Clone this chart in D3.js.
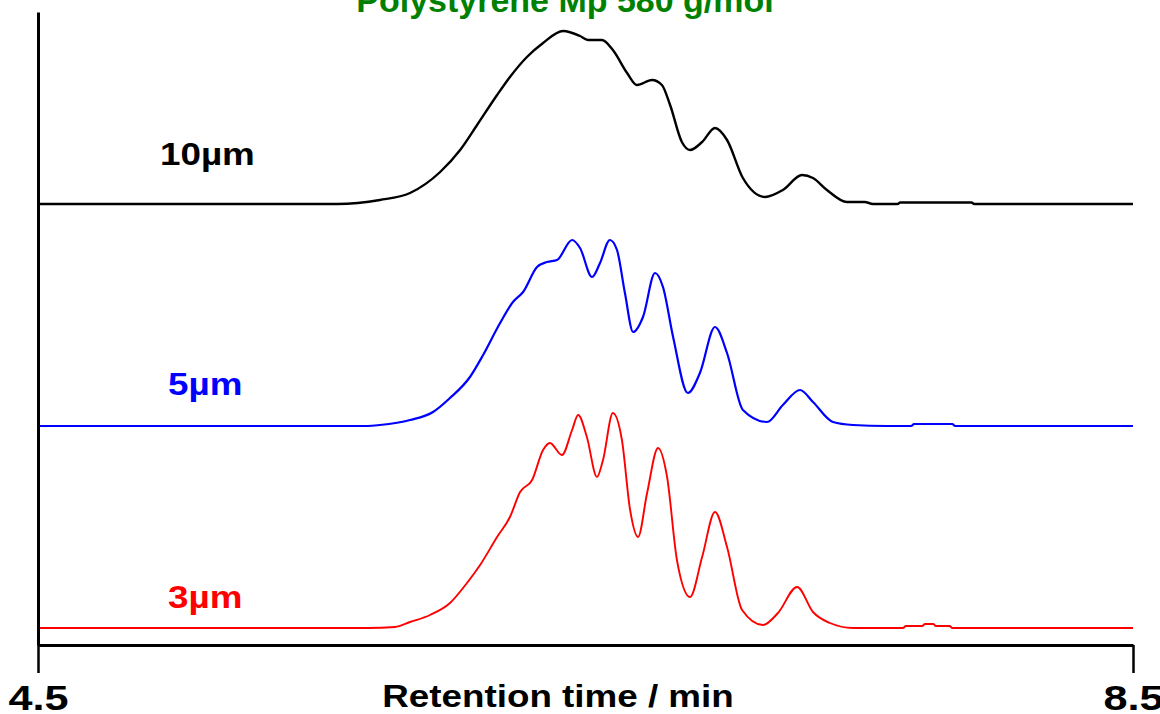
<!DOCTYPE html>
<html>
<head>
<meta charset="utf-8">
<script src="https://cdn.jsdelivr.net/npm/d3@7"></script>
<style>
  body { margin: 0; background: #fff; }
  text { font-family: "Liberation Sans", Arial, sans-serif; font-weight: bold; }
</style>
</head>
<body>
<svg id="chart"></svg>
<script>
// Retention times (min) and detector signal above each trace's own baseline
const times10 = [4.5, 5.592, 5.749, 5.859, 5.969, 6.042, 6.104, 6.177, 6.224, 6.286, 6.345, 6.418, 6.480, 6.509,
                 6.560, 6.600, 6.652, 6.688, 6.743, 6.779, 6.809, 6.852, 6.882, 6.926, 6.973, 7.017, 7.075,
                 7.156, 7.221, 7.291, 7.331, 7.382, 7.455, 7.52, 7.55, 7.64, 7.65, 7.91, 7.92, 8.5];
const signal10 = [0, 0, 4, 11, 32, 54, 79, 109, 127, 147, 161, 173, 168, 164,
                  164, 154, 131, 119, 124, 119, 99, 62, 54, 62, 76, 64, 26,
                  7, 14, 29, 26, 14, 2, 2, 0, 0, 1.5, 1.5, 0, 0];

const times5 = [4.5, 5.705, 5.749, 5.859, 5.943, 6.005, 6.078, 6.126, 6.188, 6.235, 6.272, 6.323, 6.359, 6.396,
                6.451, 6.480, 6.524, 6.553, 6.589, 6.615, 6.644, 6.674, 6.710, 6.754, 6.783, 6.820, 6.874,
                6.918, 6.973, 7.017, 7.075, 7.163, 7.221, 7.284, 7.331, 7.404, 7.477, 7.6, 7.69, 7.70, 7.84, 7.85, 8.5];
const signal5 = [0, 0, 1, 6, 14, 28, 49, 71, 103, 124, 134, 159, 164, 166,
                 186, 178, 149, 163, 186, 176, 133, 94, 109, 153, 139, 89, 33,
                 53, 99, 73, 16, 4, 21, 36, 24, 4, 1, 0, 0, 2, 2, 0, 0];

const times3 = [4.5, 5.705, 5.804, 5.859, 5.932, 6.005, 6.067, 6.115, 6.177, 6.224, 6.261, 6.305, 6.345, 6.370,
                6.414, 6.451, 6.473, 6.505, 6.542, 6.564, 6.600, 6.633, 6.663, 6.692, 6.725, 6.765, 6.798,
                6.834, 6.882, 6.926, 6.973, 7.017, 7.072, 7.148, 7.203, 7.273, 7.331, 7.393, 7.477, 7.66,
                7.67, 7.73, 7.74, 7.77, 7.78, 7.83, 7.84, 8.5];
const signal3 = [0, 0, 1, 6, 13, 25, 45, 63, 91, 111, 136, 148, 178, 185,
                 173, 198, 213, 191, 151, 168, 215, 188, 118, 91, 135, 180, 151,
                 68, 31, 71, 116, 81, 18, 3, 15, 41, 16, 5, 0, 0,
                 2, 2, 4, 4, 2, 2, 0, 0];

// Particle sizes and the vertical offset (signal units) of each stacked trace
const particleSizes = ["10µm", "5µm", "3µm"];
const traceOffsets = [441, 219, 17];
const xTicks = [4.5, 8.5];

const titleText = "Polystyrene Mp 580 g/mol";
const xLabel = "Retention time / min";

// Set up dimensions
const width = 1160, height = 714;
const stretch = 1.15; // the original lettering is a little wider than Arial

const svg = d3.select("#chart")
              .attr("width", width)
              .attr("height", height);

const xScale = d3.scaleLinear().domain([4.5, 8.5]).range([38, 1133]);
const yScale = d3.scaleLinear().domain([0, 633]).range([645, 12]);

const traces = [
    { label: particleSizes[0], times: times10, values: signal10, offset: traceOffsets[0], color: "#000000", width: 2.4, lx: 160, ly: 165 },
    { label: particleSizes[1], times: times5,  values: signal5,  offset: traceOffsets[1], color: "#0000ff", width: 2.2, lx: 168, ly: 395 },
    { label: particleSizes[2], times: times3,  values: signal3,  offset: traceOffsets[2], color: "#ff0000", width: 1.9, lx: 168, ly: 608 }
];

const line = d3.line()
               .x(d => xScale(d.t))
               .y(d => yScale(d.v))
               .curve(d3.curveMonotoneX);

// Draw the chromatograms
traces.forEach(tr => {
    const pts = tr.times.map((t, i) => ({ t: t, v: tr.values[i] + tr.offset }));
    svg.append("path")
       .datum(pts)
       .attr("fill", "none")
       .attr("stroke", tr.color)
       .attr("stroke-width", tr.width)
       .attr("stroke-linejoin", "round")
       .attr("d", line);

    svg.append("text")
       .attr("transform", `translate(${tr.lx},${tr.ly}) scale(${stretch},1)`)
       .attr("fill", tr.color)
       .attr("font-size", 32)
       .text(tr.label);
});

// Axes
const xAxis = svg.append("g")
    .attr("transform", `translate(0, ${yScale(0)})`)
    .call(d3.axisBottom(xScale).tickValues(xTicks).tickSize(28).tickSizeOuter(0).tickPadding(11).tickFormat(d3.format(".1f")));
xAxis.select(".domain").attr("stroke", "#000").attr("stroke-width", 3);
xAxis.selectAll(".tick line").attr("stroke", "#000").attr("stroke-width", 2.5);
xAxis.selectAll(".tick text").attr("font-size", 36).attr("fill", "#000")
     .attr("transform", "scale(1.2,1)")
     .style("font-family", "'Liberation Sans', Arial, sans-serif").style("font-weight", "bold");

const yAxis = svg.append("g")
    .attr("transform", `translate(${xScale(4.5)}, 0)`)
    .call(d3.axisLeft(yScale).tickValues([]).tickSizeOuter(0));
yAxis.select(".domain").attr("stroke", "#000").attr("stroke-width", 3);

// Axis title and chart title
svg.append("text")
   .attr("transform", `translate(558,707) scale(${stretch},1)`)
   .attr("text-anchor", "middle")
   .attr("font-size", 32)
   .attr("fill", "#000")
   .text(xLabel);

svg.append("text")
   .attr("transform", "translate(565,12) scale(1.03,1)")
   .attr("text-anchor", "middle")
   .attr("font-size", 33)
   .attr("fill", "#008000")
   .text(titleText);
</script>
</body>
</html>
